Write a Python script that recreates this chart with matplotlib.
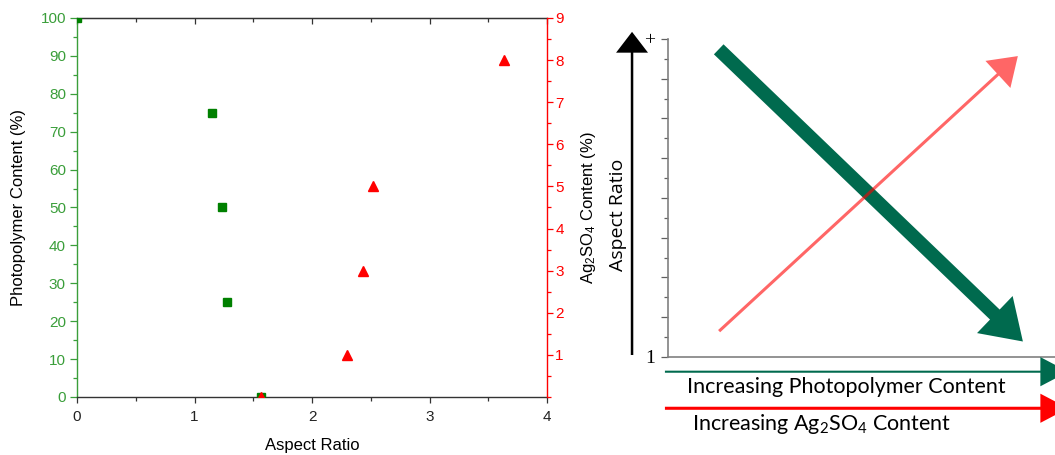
import matplotlib
matplotlib.use('Agg')
import matplotlib.pyplot as plt
from matplotlib.patches import FancyArrowPatch
from matplotlib.ticker import MultipleLocator
from matplotlib import rcParams

rcParams['font.family'] = 'sans-serif'
rcParams['font.sans-serif'] = ['Liberation Sans']
rcParams['mathtext.fontset'] = 'custom'
rcParams['mathtext.rm'] = 'Liberation Sans'
rcParams['mathtext.it'] = 'Liberation Sans:italic'

# photopolymer content vs aspect ratio (left axis)
ar_photo = [0.0, 1.15, 1.23, 1.28, 1.57]
photo_content = [100, 75, 50, 25, 0]

# Ag2SO4 content vs aspect ratio (right axis)
ar_silver = [1.57, 2.30, 2.43, 2.52, 3.63]
silver_content = [0, 1, 3, 5, 8]

# trend sketch: arrow (start, end) in sketch-axes units
trend_photo = [(1.31, 7.74), (9.17, 0.39)]
trend_silver = [(1.32, 0.65), (9.04, 7.57)]
ratio_arrow = [(-0.93, 0.05), (-0.93, 8.18)]
photo_axis_arrow = [(-0.08, -0.37), (10.34, -0.37)]
silver_axis_arrow = [(-0.08, -1.29), (10.34, -1.29)]

GREEN_AX = '#3a9e3a'
GREEN_PT = '#008000'
DARK_GREEN = '#006a4e'


def arrow(ax, seg, color, tail, head_len, head_w, alpha=1.0, z=3):
    # arrow sizes are in points (mutation_scale=1)
    style = f'simple,head_length={head_len},head_width={head_w},tail_width={tail}'
    p = FancyArrowPatch(seg[0], seg[1], arrowstyle=style, mutation_scale=1,
                        color=color, lw=0, shrinkA=0, shrinkB=0,
                        alpha=alpha, clip_on=False, zorder=z)
    ax.add_patch(p)


fig = plt.figure(figsize=(10.55, 4.55), dpi=100)

# ---- left: scatter with two y axes ----
ax = fig.add_axes([0.0730, 0.1275, 0.4455, 0.8330])
ax.plot(ar_photo, photo_content, 's', color=GREEN_PT, ms=6, zorder=3)
ax.set_xlim(0, 4)
ax.set_ylim(0, 100)
ax.xaxis.set_major_locator(MultipleLocator(1))
ax.xaxis.set_minor_locator(MultipleLocator(0.5))
ax.yaxis.set_major_locator(MultipleLocator(10))
ax.yaxis.set_minor_locator(MultipleLocator(5))
ax.tick_params(axis='y', which='both', colors=GREEN_AX, direction='out',
               labelsize=11, width=0.9, pad=3)
ax.tick_params(axis='y', which='major', length=5)
ax.tick_params(axis='y', which='minor', length=2.7)
ax.tick_params(axis='x', which='both', color='#333333', labelcolor='#222222',
               direction='out', labelsize=11, width=0.9, pad=5)
ax.tick_params(axis='x', which='major', length=4.5)
ax.tick_params(axis='x', which='minor', length=3)
for s in ['top', 'bottom']:
    ax.spines[s].set_color('#333333')
    ax.spines[s].set_linewidth(1.0)
ax.spines['left'].set_color(GREEN_AX)
ax.spines['left'].set_linewidth(1.0)
ax.spines['right'].set_visible(False)

top = ax.secondary_xaxis('top')
top.xaxis.set_major_locator(MultipleLocator(1))
top.xaxis.set_minor_locator(MultipleLocator(0.5))
top.tick_params(which='both', direction='in', labeltop=False, color='#333333', width=0.9)
top.tick_params(which='major', length=4.5)
top.tick_params(which='minor', length=3)
top.spines['top'].set_color('#333333')

ax.set_xlabel('Aspect Ratio', fontsize=12)
ax.set_ylabel('Photopolymer Content (%)', fontsize=12)
ax.xaxis.set_label_coords(0.5, -0.108)
ax.yaxis.set_label_coords(-0.108, 0.5)

ax2 = ax.twinx()
ax2.plot(ar_silver, silver_content, '^', color='red', ms=7.5, zorder=3)
ax2.set_ylim(0, 9)
ax2.set_yticks(range(1, 10))
ax2.yaxis.set_minor_locator(MultipleLocator(0.5))
ax2.tick_params(axis='y', which='both', colors='red', direction='out',
                labelsize=11, width=0.9, pad=1.5)
ax2.tick_params(axis='y', which='major', length=4.5)
ax2.tick_params(axis='y', which='minor', length=2.8)
for s in ['top', 'bottom', 'left']:
    ax2.spines[s].set_visible(False)
ax2.spines['right'].set_color('red')
ax2.spines['right'].set_linewidth(1.0)
ax2.set_ylabel('Ag$_2$SO$_4$ Content (%)', fontsize=12)
ax2.yaxis.set_label_coords(1.068, 0.5)

# ---- right: trend sketch ----
sx = fig.add_axes([0.6332, 0.2154, 0.3668, 0.6989])
sx.patch.set_alpha(0)
sx.set_xlim(0, 10)
sx.set_ylim(0, 8)
for s in ['top', 'right']:
    sx.spines[s].set_visible(False)
for s in ['left', 'bottom']:
    sx.spines[s].set_color('#808080')
    sx.spines[s].set_linewidth(1.2)
sx.set_xticks([])
sx.set_yticks(range(9), labels=['1', '', '', '', '', '', '', '', '+'])
sx.yaxis.set_minor_locator(MultipleLocator(0.5))
sx.tick_params(axis='y', which='both', color='#606060', width=0.9, direction='out',
               labelsize=14, labelfontfamily='Liberation Serif')
sx.tick_params(axis='y', which='major', length=5, pad=4)
sx.tick_params(axis='y', which='minor', length=3)

arrow(sx, trend_photo, DARK_GREEN, tail=10, head_len=28, head_w=37, z=3)
arrow(sx, trend_silver, 'red', tail=2.2, head_len=19.5, head_w=26.5, alpha=0.6, z=4)
arrow(sx, ratio_arrow, 'black', tail=1.8, head_len=15, head_w=23)
arrow(sx, photo_axis_arrow, DARK_GREEN, tail=1.5, head_len=20, head_w=21)
arrow(sx, silver_axis_arrow, 'red', tail=2.2, head_len=20, head_w=21)

sx.text(-1.29, 3.57, 'Aspect Ratio', rotation=90, fontfamily='Open Sans',
        fontsize=14, ha='center', va='center')
sx.text(0.49, -0.75, 'Increasing Photopolymer Content', fontfamily='Lato',
        fontsize=15.5, ha='left', va='center')
sx.text(0.61, -1.69, 'Increasing Ag$\\mathregular{_2}$SO$\\mathregular{_4}$ Content',
        fontfamily='Lato', fontsize=15.5, ha='left', va='center')

fig.savefig('out.png', dpi=100)
